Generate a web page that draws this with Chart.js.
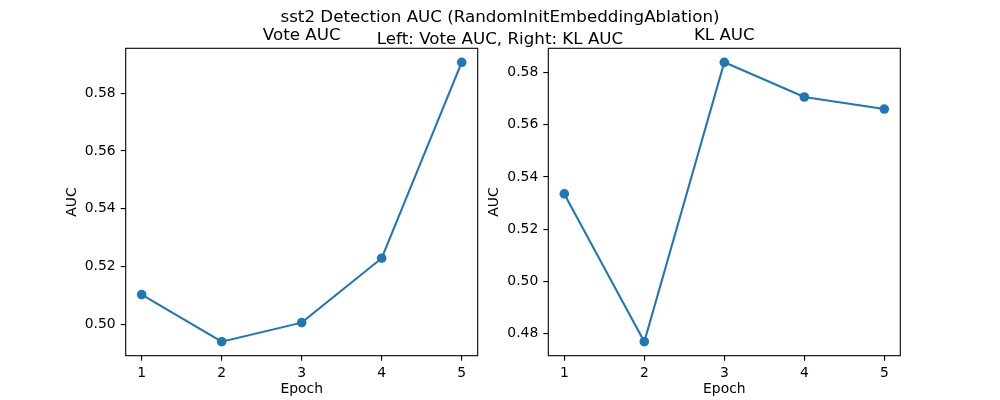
<!DOCTYPE html>
<html>
<head>
<meta charset="utf-8">
<script src="https://cdn.jsdelivr.net/npm/chart.js@4.4.0/dist/chart.umd.min.js"></script>
<style>
  body { margin: 0; background: #fff; }
  #fig { position: relative; width: 1000px; height: 400px; overflow: hidden; font-family: 'DejaVu Sans', sans-serif; color: #000; }
  canvas { position: absolute; top: 0; }
  .txt { position: absolute; white-space: nowrap; font-size: 16.7px; line-height: 20px; transform: translate(-50%, -50%); }
</style>
</head>
<body>
<div id="fig">
  <canvas id="vote" width="500" height="400" style="left:0px"></canvas>
  <canvas id="kl" width="560" height="400" style="left:440px"></canvas>
  <div class="txt" style="left:500px; top:16px">sst2 Detection AUC (RandomInitEmbeddingAblation)</div>
  <div class="txt" style="left:500px; top:38px">Left: Vote AUC, Right: KL AUC</div>
  <div class="txt" style="left:301.7px; top:34px">Vote AUC</div>
  <div class="txt" style="left:724.3px; top:34px">KL AUC</div>
</div>
<script>
const epochs = [1, 2, 3, 4, 5]
const voteAuc = [0.5103, 0.4940, 0.5006, 0.5229, 0.5907]
const klAuc = [0.5335, 0.4769, 0.5839, 0.5706, 0.5660]

const blue = '#1f77b4'

Chart.defaults.font.family = "'DejaVu Sans', sans-serif"
Chart.defaults.color = '#000'

// matplotlib style 5% margins
const limits = (values) => {
    const lo = Math.min(...values)
    const hi = Math.max(...values)
    const m = (hi - lo) * 0.05
    return [lo - m, hi + m]
}

// full box around the plot area, like the spines
const frame = {
    id: 'frame',
    afterDraw(chart) {
        const {ctx, chartArea: a} = chart
        ctx.save()
        ctx.strokeStyle = '#000'
        ctx.lineWidth = 1.1
        ctx.strokeRect(a.left, a.top, a.right - a.left, a.bottom - a.top)
        ctx.restore()
    }
}

const makeChart = (id, values, padLeft, axisWidth, padRight) => {
    const [xmin, xmax] = limits(epochs)
    const [ymin, ymax] = limits(values)
    const tickGrid = {
        drawOnChartArea: false,
        drawTicks: true,
        tickLength: 5,
        color: '#000',
        lineWidth: 1.1,
    }
    return new Chart(document.getElementById(id), {
        type: 'line',
        data: {
            datasets: [{
                data: epochs.map((e, i) => ({x: e, y: values[i]})),
                borderColor: blue,
                backgroundColor: blue,
                borderWidth: 2.1,
                pointRadius: 4.8,
                pointBorderWidth: 0,
                pointBackgroundColor: blue,
                tension: 0,
                fill: false,
            }]
        },
        options: {
            responsive: false,
            animation: false,
            devicePixelRatio: 1,
            layout: {padding: {left: padLeft, right: padRight, top: 48.3, bottom: 0}},
            plugins: {legend: {display: false}, tooltip: {enabled: false}, title: {display: false}},
            scales: {
                x: {
                    type: 'linear',
                    min: xmin,
                    max: xmax,
                    border: {display: false},
                    grid: tickGrid,
                    ticks: {
                        stepSize: 1,
                        includeBounds: false,
                        padding: 4,
                        font: {size: 13.9},
                        callback: (v) => v.toFixed(0),
                    },
                    title: {display: true, text: 'Epoch', font: {size: 13.9}, padding: {top: 0, bottom: 2}},
                    afterFit: (scale) => { scale.height = 44.3 },
                },
                y: {
                    type: 'linear',
                    min: ymin,
                    max: ymax,
                    border: {display: false},
                    grid: tickGrid,
                    ticks: {
                        stepSize: 0.02,
                        includeBounds: false,
                        padding: 5,
                        font: {size: 13.9},
                        callback: (v) => v.toFixed(2),
                    },
                    title: {display: true, text: 'AUC', font: {size: 13.9}, padding: {top: 4, bottom: 0}},
                    afterFit: (scale) => { scale.width = axisWidth },
                },
            }
        },
        plugins: [frame],
    })
}

const voteChart = makeChart('vote', voteAuc, 60.5, 65.2, 22.3)
const klChart = makeChart('kl', klAuc, 42.1, 66.2, 99.7)
</script>
</body>
</html>
